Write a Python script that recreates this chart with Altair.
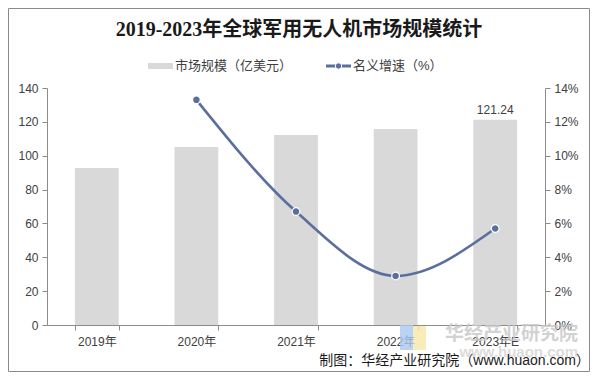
import altair as alt
import pandas as pd

years = ["2019年", "2020年", "2021年", "2022年", "2023年E"]
market = [92.7, 105.1, 112.2, 115.8, 121.24]
growth = [None, 13.3, 6.7, 2.9, 5.7]

title_text = "2019-2023年全球军用无人机市场规模统计"
legend_bar = "市场规模（亿美元）"
legend_line = "名义增速（%）"
footer_text = "制图：华经产业研究院（www.huaon.com）"
wm1 = "华经产业研究院"
wm2 = "www.huaon.com"

df = pd.DataFrame({"year": years, "market": market, "growth": growth})
df["label"] = ["", "", "", "", "121.24"]

W, H = 498, 237
PL, PT = 39, 80
PR = 582 - PL - W
PB = 364 - PT - H

LAB_FONT = "Liberation Sans, Noto Sans CJK SC"
AXIS_GREY = "#8c8c8c"
LINE_COL = "#5b6f9e"

left_ticks = [0, 20, 40, 60, 80, 100, 120, 140]
right_ticks = [0, 2, 4, 6, 8, 10, 12, 14]

x_axis = alt.Axis(labelAngle=0, tickBand="extent", tickSize=5,
                  domainColor=AXIS_GREY, tickColor=AXIS_GREY,
                  labelFont=LAB_FONT, labelFontSize=12,
                  labelColor="#404040", labelPadding=6,
                  labelOverlap=False)
x_scale = alt.Scale(paddingInner=0.56, paddingOuter=0.28)

def xenc():
    return alt.X("year:N", sort=years, title=None, scale=x_scale, axis=x_axis)

left_axis = alt.Axis(orient="left", values=left_ticks, tickCount=8,
                     grid=False, tickSize=5, domainColor=AXIS_GREY,
                     tickColor=AXIS_GREY, labelFont=LAB_FONT,
                     labelFontSize=12, labelColor="#404040",
                     labelPadding=4, labelOverlap=False,
                     labelFlush=False, labelBound=False)
right_axis = alt.Axis(orient="right", values=right_ticks, tickCount=8,
                      labelExpr="datum.value + '%'",
                      grid=False, tickSize=5, domainColor=AXIS_GREY,
                      tickColor=AXIS_GREY, labelFont=LAB_FONT,
                      labelFontSize=12, labelColor="#404040",
                      labelPadding=4, labelOverlap=False,
                      labelFlush=False, labelBound=False)
left_scale = alt.Scale(domain=[0, 140], nice=False)
right_scale = alt.Scale(domain=[0, 14], nice=False)

base = alt.Chart(df)

bars = base.mark_bar(color="#d9d9d9").encode(
    x=xenc(),
    y=alt.Y("market:Q", title=None, scale=left_scale, axis=left_axis),
)
bar_label = base.mark_text(dy=-10, font=LAB_FONT, fontSize=12,
                           color="#404040").encode(
    x=xenc(),
    y=alt.Y("market:Q", title=None, scale=left_scale, axis=left_axis),
    text="label:N",
)
bar_layer = alt.layer(bars, bar_label)

line_df = base.transform_filter("datum.growth != null")
line = line_df.mark_line(interpolate="monotone", color=LINE_COL,
                         strokeWidth=2.6).encode(
    x=xenc(),
    y=alt.Y("growth:Q", title=None, scale=right_scale, axis=right_axis),
)
pts = line_df.mark_point(filled=True, size=60, color=LINE_COL,
                         stroke="white", strokeWidth=1.2, opacity=1).encode(
    x=xenc(),
    y=alt.Y("growth:Q", title=None, scale=right_scale, axis=right_axis),
)
line_layer = alt.layer(line, pts)

one = pd.DataFrame({"a": [0]})

def txt(text, x, y, size, **kw):
    d = pd.DataFrame({"t": [text]})
    return alt.Chart(d).mark_text(fontSize=size, **kw).encode(
        x=alt.value(x), y=alt.value(y), text="t:N")

# coordinates relative to plot origin (image x-47, y-88)
border = alt.Chart(one).mark_rect(fill=None, stroke="#8a8a8a", strokeWidth=1).encode(
    x=alt.value(-38.5), x2=alt.value(542.5), y=alt.value(-79.5), y2=alt.value(283.5))

title = txt(title_text, 252, -58, 20, font="Liberation Serif, Noto Sans CJK SC",
            fontWeight="bold", color="#1a1a1a", align="center", baseline="middle")

leg_rect = alt.Chart(one).mark_rect(color="#d9d9d9").encode(
    x=alt.value(101), x2=alt.value(126), y=alt.value(-25), y2=alt.value(-19))
leg_t1 = txt(legend_bar, 128, -22, 13, font=LAB_FONT, color="#404040",
             align="left", baseline="middle")
leg_line = alt.Chart(one).mark_rule(color=LINE_COL, strokeWidth=3).encode(
    x=alt.value(279), x2=alt.value(304), y=alt.value(-22))
leg_pt = alt.Chart(one).mark_point(filled=True, size=40, color=LINE_COL,
                                   stroke="white", strokeWidth=1, opacity=1).encode(
    x=alt.value(291.5), y=alt.value(-22))
leg_t2 = txt(legend_line, 306, -22, 13, font=LAB_FONT, color="#404040",
             align="left", baseline="middle")

wm_a = txt(wm1, 531, 246, 19, font="Noto Sans CJK SC", fontWeight="bold",
           color="#c8c8c8", opacity=0.8, align="right", baseline="middle")
wm_b = txt(wm2, 531, 264, 15, font=LAB_FONT, fontWeight="bold",
           color="#d4d4d4", opacity=0.8, align="right", baseline="middle")
logo1 = alt.Chart(one).mark_rect(color="#a9c8ef", opacity=0.8).encode(
    x=alt.value(353), x2=alt.value(366), y=alt.value(236), y2=alt.value(262))
logo2 = alt.Chart(one).mark_rect(color="#f6e7a6", opacity=0.8).encode(
    x=alt.value(366), x2=alt.value(379), y=alt.value(238), y2=alt.value(262))

footer = txt(footer_text, 543, 273, 14, font=LAB_FONT, color="#1a1a1a",
             align="right", baseline="middle")

main = alt.layer(bar_layer, line_layer).resolve_scale(y="independent")

chart = alt.layer(
    border, logo1, logo2, wm_a, wm_b, main, title, leg_rect, leg_t1,
    leg_line, leg_pt, leg_t2, footer
).properties(
    width=W, height=H,
    autosize=alt.AutoSizeParams(type="none"),
    padding={"left": PL, "top": PT, "right": PR, "bottom": PB},
    background="white",
).configure_view(stroke=None)

chart.save("out.html", embed_options={"renderer": "svg", "actions": False})
